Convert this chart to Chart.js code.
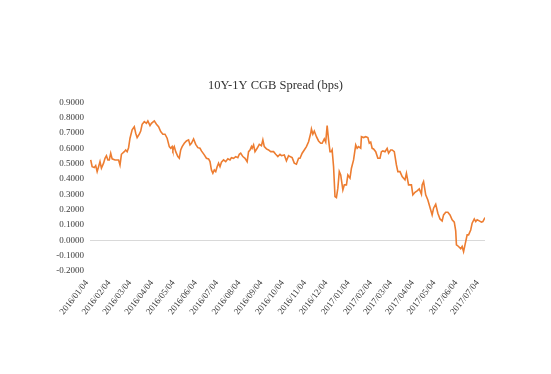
<!DOCTYPE html>
<html>
<head>
<meta charset="utf-8">
<script src="https://cdn.jsdelivr.net/npm/chart.js@4.4.1/dist/chart.umd.min.js"></script>
<style>
  html, body { margin: 0; padding: 0; background: #ffffff; }
  #wrap { width: 551px; height: 374px; }
</style>
</head>
<body>
<div id="wrap"><canvas id="c" width="551" height="374"></canvas></div>
<script>
const chartTitle = '10Y-1Y CGB Spread (bps)';
const monthLabels = ['2016/01/04','2016/02/04','2016/03/04','2016/04/04','2016/05/04','2016/06/04','2016/07/04','2016/08/04','2016/09/04','2016/10/04','2016/11/04','2016/12/04','2017/01/04','2017/02/04','2017/03/04','2017/04/04','2017/05/04','2017/06/04','2017/07/04'];
const yMin = -0.2, yMax = 0.9, yStep = 0.1;

const dates = [
'2016-01-05','2016-01-07','2016-01-10','2016-01-12','2016-01-14','2016-01-16','2016-01-18','2016-01-20','2016-01-23','2016-01-25',
'2016-01-27','2016-01-29','2016-01-31','2016-02-02','2016-02-04','2016-02-08','2016-02-13','2016-02-15','2016-02-17','2016-02-21',
'2016-02-23','2016-02-25','2016-02-27','2016-02-29','2016-03-03','2016-03-06','2016-03-08','2016-03-10','2016-03-13','2016-03-15',
'2016-03-17','2016-03-20','2016-03-23','2016-03-25','2016-03-28','2016-03-30','2016-04-03','2016-04-06','2016-04-09','2016-04-12',
'2016-04-15','2016-04-18','2016-04-21','2016-04-24','2016-04-26','2016-04-28','2016-04-29','2016-05-01','2016-05-03','2016-05-06',
'2016-05-08','2016-05-10','2016-05-12','2016-05-15','2016-05-18','2016-05-21','2016-05-23','2016-05-25','2016-05-28','2016-05-31',
'2016-06-03','2016-06-06','2016-06-08','2016-06-12','2016-06-15','2016-06-18','2016-06-20','2016-06-22','2016-06-24','2016-06-26',
'2016-06-28','2016-06-30','2016-07-02','2016-07-04','2016-07-06','2016-07-09','2016-07-12','2016-07-15','2016-07-18','2016-07-20',
'2016-07-23','2016-07-26','2016-07-29','2016-07-31','2016-08-02','2016-08-05','2016-08-08','2016-08-11','2016-08-13','2016-08-15',
'2016-08-17','2016-08-18','2016-08-20','2016-08-22','2016-08-25','2016-08-28','2016-08-31','2016-09-02','2016-09-04','2016-09-07',
'2016-09-10','2016-09-13','2016-09-17','2016-09-20','2016-09-23','2016-09-26','2016-09-28','2016-10-02','2016-10-05','2016-10-08',
'2016-10-10','2016-10-13','2016-10-16','2016-10-19','2016-10-22','2016-10-24','2016-10-27','2016-10-30','2016-11-02','2016-11-05',
'2016-11-08','2016-11-09','2016-11-11','2016-11-13','2016-11-16','2016-11-19','2016-11-22','2016-11-24','2016-11-27','2016-11-29',
'2016-12-01','2016-12-03','2016-12-05','2016-12-07','2016-12-08','2016-12-10','2016-12-12','2016-12-14','2016-12-16','2016-12-18',
'2016-12-20','2016-12-21','2016-12-23','2016-12-25','2016-12-28','2016-12-30','2017-01-02','2017-01-04','2017-01-07','2017-01-10',
'2017-01-12','2017-01-14','2017-01-17','2017-01-18','2017-01-21','2017-01-24','2017-01-27','2017-01-29','2017-01-31','2017-02-02',
'2017-02-04','2017-02-07','2017-02-10','2017-02-13','2017-02-15','2017-02-17','2017-02-20','2017-02-23','2017-02-25','2017-02-28',
'2017-03-02','2017-03-05','2017-03-08','2017-03-10','2017-03-13','2017-03-16','2017-03-18','2017-03-20','2017-03-22','2017-03-25',
'2017-03-29','2017-03-31','2017-04-03','2017-04-06','2017-04-09','2017-04-12','2017-04-13','2017-04-15','2017-04-18','2017-04-21',
'2017-04-24','2017-04-27','2017-04-29','2017-05-02','2017-05-05','2017-05-08','2017-05-11','2017-05-13','2017-05-16','2017-05-19',
'2017-05-22','2017-05-25','2017-05-28','2017-05-30','2017-05-31','2017-06-03','2017-06-06','2017-06-08','2017-06-10','2017-06-12',
'2017-06-15','2017-06-17','2017-06-20','2017-06-22','2017-06-25','2017-06-27','2017-06-29','2017-07-02','2017-07-05','2017-07-07',
'2017-07-10'
];

const spread = [
0.525,0.481,0.475,0.488,0.449,0.481,0.514,0.471,0.504,0.536,
0.553,0.525,0.525,0.569,0.532,0.525,0.525,0.492,0.562,0.579,
0.590,0.579,0.605,0.667,0.721,0.742,0.699,0.671,0.693,0.714,
0.758,0.775,0.764,0.780,0.749,0.764,0.780,0.758,0.742,0.710,
0.693,0.693,0.667,0.612,0.601,0.612,0.590,0.612,0.579,0.547,
0.536,0.590,0.612,0.634,0.649,0.656,0.623,0.634,0.662,0.627,
0.605,0.601,0.584,0.558,0.536,0.532,0.514,0.460,0.438,0.460,
0.449,0.481,0.504,0.481,0.510,0.525,0.514,0.532,0.525,0.540,
0.536,0.547,0.540,0.562,0.569,0.547,0.536,0.514,0.579,0.590,
0.612,0.601,0.623,0.579,0.601,0.627,0.618,0.656,0.612,0.597,
0.590,0.579,0.579,0.562,0.547,0.562,0.553,0.558,0.519,0.553,
0.547,0.540,0.504,0.497,0.536,0.536,0.569,0.590,0.612,0.644,
0.699,0.727,0.693,0.714,0.677,0.649,0.634,0.634,0.662,0.641,
0.749,0.656,0.579,0.579,0.590,0.481,0.286,0.279,0.341,0.449,
0.427,0.395,0.329,0.362,0.362,0.427,0.406,0.471,0.525,0.623,
0.601,0.612,0.601,0.677,0.671,0.677,0.671,0.634,0.641,0.601,
0.597,0.579,0.536,0.536,0.579,0.584,0.579,0.601,0.569,0.590,
0.590,0.579,0.492,0.449,0.449,0.416,0.406,0.395,0.438,0.362,
0.362,0.297,0.314,0.323,0.336,0.301,0.362,0.384,0.297,0.264,
0.214,0.166,0.210,0.236,0.177,0.140,0.127,0.166,0.184,0.184,
0.166,0.134,0.119,0.062,-0.029,-0.040,-0.055,-0.040,-0.073,-0.029,
0.036,0.036,0.068,0.112,0.140,0.123,0.134,0.127,0.119,0.123,
0.149
];

const baseDay = Date.UTC(2016, 0, 4);
function dayOffset(s) {
  const p = s.split(/[-\/]/).map(Number);
  return Math.round((Date.UTC(p[0], p[1] - 1, p[2]) - baseDay) / 86400000);
}

const points = dates.map((d, i) => ({ x: dayOffset(d), y: spread[i] }));
const tickDays = monthLabels.map(dayOffset);
const serif = '"Liberation Serif", "DejaVu Serif", serif';

new Chart(document.getElementById('c'), {
  type: 'line',
  data: {
    datasets: [{
      label: chartTitle,
      data: points,
      borderColor: '#ED7D31',
      borderWidth: 1.6,
      pointRadius: 0,
      tension: 0,
      fill: false
    }]
  },
  options: {
    responsive: false,
    animation: false,
    devicePixelRatio: 1,
    layout: { padding: 0 },
    plugins: {
      legend: { display: false },
      tooltip: { enabled: false },
      title: {
        display: true,
        text: chartTitle,
        color: '#333333',
        font: { family: serif, size: 12.5, weight: 'normal' },
        padding: { top: 78, bottom: 9.5 }
      }
    },
    scales: {
      x: {
        type: 'linear',
        min: 0,
        max: dayOffset(dates[dates.length - 1]),
        border: { display: false },
        grid: { display: false, drawTicks: false },
        afterBuildTicks: (scale) => { scale.ticks = tickDays.map(v => ({ value: v })); },
        afterFit: (scale) => { scale.height = 103; },
        ticks: {
          autoSkip: false,
          minRotation: 52,
          maxRotation: 52,
          padding: 7,
          labelOffset: -3,
          color: '#3a3a3a',
          font: { family: serif, size: 9 },
          callback: (v, i) => monthLabels[i]
        }
      },
      y: {
        min: yMin,
        max: yMax,
        border: { display: false },
        grid: {
          drawTicks: false,
          lineWidth: 1,
          color: (ctx) => (ctx.tick && Math.abs(ctx.tick.value) < 1e-9) ? '#d9d9d9' : 'rgba(0,0,0,0)'
        },
        afterFit: (scale) => { scale.width = 90; },
        ticks: {
          stepSize: yStep,
          padding: 6,
          color: '#3a3a3a',
          font: { family: serif, size: 9 },
          callback: (v) => Number(v).toFixed(4)
        }
      },
      yRight: {
        position: 'right',
        min: yMin,
        max: yMax,
        border: { display: false },
        grid: { display: false, drawTicks: false },
        ticks: { display: false },
        afterFit: (scale) => { scale.width = 66; }
      }
    }
  }
});
</script>
</body>
</html>
